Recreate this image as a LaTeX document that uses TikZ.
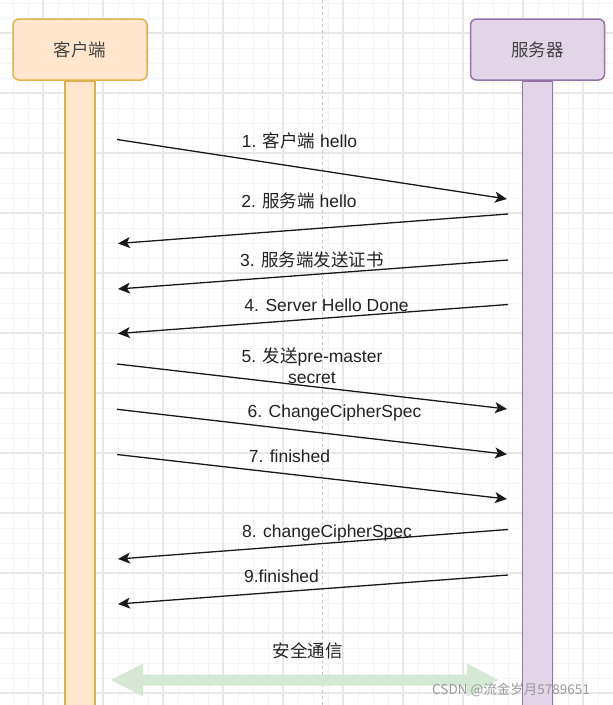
\documentclass[tikz,border=0pt]{standalone}
\usepackage{fontspec}
\setmainfont{Liberation Sans}
\newfontfamily\cjk{Noto Sans CJK SC}
\usetikzlibrary{arrows.meta}
\definecolor{clientfill}{HTML}{FFE6CC}
\definecolor{clientline}{HTML}{DDB24E}
\definecolor{serverfill}{HTML}{E1D5E7}
\definecolor{serverline}{HTML}{9673A6}
\definecolor{minorgrid}{HTML}{F4F4F4}
\definecolor{majorgrid}{HTML}{E7E7E7}
\definecolor{pagedash}{HTML}{C8C8C8}
\definecolor{safegreen}{HTML}{D5E8D4}
\definecolor{labeltext}{HTML}{222222}
\definecolor{marktext}{HTML}{9A9A9A}
\tikzset{
  minorline/.style={draw=minorgrid, line width=0.9pt},
  majorline/.style={draw=majorgrid, line width=1.1pt},
  headbox/.style={rounded corners=6pt, line width=1.5pt, minimum width=134pt, minimum height=61pt, inner sep=0pt, font=\cjk\fontsize{17.5}{21}\selectfont, text=labeltext!85},
  clientbox/.style={headbox, fill=clientfill, draw=clientline},
  serverbox/.style={headbox, fill=serverfill, draw=serverline},
  lifebar/.style={anchor=north, minimum width=30pt, minimum height=640pt, inner sep=0pt, line width=1.5pt},
  clientbar/.style={lifebar, fill=clientfill, draw=clientline},
  serverbar/.style={lifebar, fill=serverfill, draw=serverline},
  msg/.style={draw=black!90, line width=1.3pt, -{Stealth[length=12pt,width=11pt,inset=3pt]}},
  msglabel/.style={anchor=base, inner sep=0pt, align=center, text=labeltext, font=\fontsize{17.5}{21}\selectfont},
}
\begin{document}
\begin{tikzpicture}[x=1pt,y=-1pt]
\useasboundingbox (0,0) rectangle (613,705);
\clip (0,0) rectangle (613,705);
\fill[white] (0,0) rectangle (613,705);
% grid
\foreach \i in {0,...,40} {\draw[minorline] ({13+15*\i},0) -- ({13+15*\i},705);}
\foreach \i in {0,...,47} {\draw[minorline] (0,{3+15*\i}) -- (613,{3+15*\i});}
\foreach \i in {0,...,10} {\draw[majorline] ({43+60*\i},0) -- ({43+60*\i},705);}
\foreach \i in {0,...,11} {\draw[majorline] (0,{33+60*\i}) -- (613,{33+60*\i});}
\draw[pagedash, line width=1pt, dash pattern=on 3pt off 3pt] (322,0) -- (322,705);
% lifelines
\node[clientbar] (cbar) at (80,80) {};
\node[serverbar] (sbar) at (537.5,80) {};
\node[clientbox] (client) at (80,49.5) {客户端};
\node[serverbox] (server) at (537.5,49.5) {服务器};
% message end points
\coordinate (a1) at (117,139.5); \coordinate (b1) at (507,199);
\coordinate (a2) at (508,214); \coordinate (b2) at (118,243.5);
\coordinate (a3) at (508,260); \coordinate (b3) at (118,289);
\coordinate (a4) at (508,304.5); \coordinate (b4) at (118,333.5);
\coordinate (a5) at (117,364); \coordinate (b5) at (507,409);
\coordinate (a6) at (117,409.3); \coordinate (b6) at (507,454.3);
\coordinate (a7) at (117,454.5); \coordinate (b7) at (507,499);
\coordinate (a8) at (508,529.5); \coordinate (b8) at (118,559);
\coordinate (a9) at (508,575); \coordinate (b9) at (118,604);
\foreach \k in {1,...,9} {\draw[msg] (a\k) -- (b\k);}
% labels
\node[msglabel] (l1) at (299.5,147) {1. {\cjk 客户端} hello};
\node[msglabel] (l2) at (299,207) {2. {\cjk 服务端} hello};
\node[msglabel] (l3) at (312,266.5) {3. {\cjk 服务端发送证书}};
\node[msglabel] (l4) at (326.5,311.5) {4. Server Hello Done};
\node[msglabel] (l5) at (312,383.5) {5. {\cjk 发送}pre-master\\secret};
\node[msglabel] (l6) at (334.5,417) {6. ChangeCipherSpec};
\node[msglabel] (l7) at (289.5,462) {7. finished};
\node[msglabel] (l8) at (327,537) {8. changeCipherSpec};
\node[msglabel] (l9) at (281.5,582) {9.finished};
% secure channel arrow
\coordinate (gl) at (111,680); \coordinate (gr) at (498,680);
\fill[safegreen] (gl) -- (143,663.5) -- (143,674.5) -- (467,674.5) -- (467,663.5) -- (gr) -- (467,696.5) -- (467,685.5) -- (143,685.5) -- (143,696.5) -- cycle;
\node[msglabel, font=\cjk\fontsize{17.5}{21}\selectfont] (safe) at (307.5,657) {安全通信};
% watermark
\node[anchor=base, inner sep=0pt, text=marktext, font=\cjk\fontsize{13.5}{16}\selectfont] (mark) at (511,694) {CSDN @流金岁月5789651};
\end{tikzpicture}
\end{document}
